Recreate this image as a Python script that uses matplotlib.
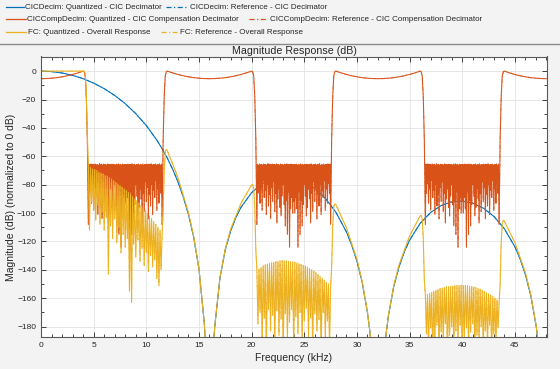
import matplotlib
matplotlib.use('Agg')
import matplotlib.pyplot as plt
from matplotlib.lines import Line2D
import numpy as np

plt.rcParams['font.family'] = ['Liberation Sans', 'DejaVu Sans']

# ---- data (kHz, dB) ----

# CIC decimator (blue)
cic_freq = [0, 1, 2, 3, 4, 5, 6, 7, 8, 9, 10, 11, 11.5, 12, 12.5, 13, 13.5, 14, 14.5, 15, 15.5, 15.7,
            16.3, 16.4, 16.5, 17, 17.5, 18, 18.5, 19, 20, 21, 22, 23, 24, 25, 26, 27, 28, 29, 29.5,
            30, 30.5, 31, 31.2, 31.3, 32.7, 32.8, 33, 33.5, 34, 34.5, 35, 36, 37, 38, 39, 40, 41,
            42, 43, 44, 45, 45.5, 46, 46.5, 47, 47.2]
cic_mag = [0, -0.33, -1.31, -2.97, -5.32, -8.43, -12.33, -17.13, -22.94, -29.93, -38.35, -48.63,
           -54.64, -61.37, -69.05, -77.89, -88.29, -100.92, -117.0, -139.4, -176.8, -204,
           -205.7, -191.1, -179.7, -145.3, -125.9, -112.8, -103.2, -95.85, -85.57, -79.28, -75.8,
           -74.56, -75.31, -77.98, -82.64, -89.58, -99.38, -113.2, -122.4,
           -133.8, -148.8, -170.0, -181.8, -188.8, -190.1, -183.3, -172.0, -151.7, -137.8, -127.3,
           -119.1, -107.3, -99.54, -94.66, -92.1, -91.57, -93.01,
           -96.49, -102.3, -110.99, -123.76, -132.4, -143.3, -157.8, -178.5, -190]

# CIC compensation decimator (orange): half period 0..8 kHz, the rest are its images
comp_pass_freq = [0, 0.5, 1, 1.5, 2, 2.5, 3, 3.5, 4.0, 4.1, 4.2, 4.3, 4.4]
comp_pass_mag = [-5.32, -5.24, -4.99, -4.59, -4.01, -3.27, -2.35, -1.26, 0.0, -0.4, -3.5, -18, -48]
# stopband 4.5 .. 8.0 kHz
comp_stop_mag = [-108, -65.5, -86, -66.2, -79, -65.4, -93, -66, -83, -65.7, -98, -66.3, -77, -65.5,
                 -89, -66.1, -84, -65.8, -101, -66.4, -80, -65.3, -95, -66, -87, -65.6, -104, -66.2,
                 -82, -65.5, -92, -66, -78, -65.8, -99, -66.3, -86, -65.4, -107, -66, -90, -65.7,
                 -83, -66.2, -96, -65.5, -102, -66, -88, -65.8, -80, -66.4, -94, -65.6, -109, -66.1,
                 -91, -65.4, -115, -66, -85, -65.7, -124, -66.2, -97, -65.5, -89, -66, -100, -65.8, -92]

# overall response (yellow)
fc_pass_freq = [0, 1, 2, 3, 3.5, 4.0, 4.1, 4.2, 4.3, 4.4]
fc_pass_mag = [0, 0, 0, 0.05, 0.05, 0, -0.1, -1.5, -15, -45]
# stopband 4.5 .. 11.5 kHz
fc_stop1_mag = [-67, -112, -68, -92, -69, -98, -69.5, -105, -70, -94, -71, -108, -71.8, -99, -72.5,
                -112, -73.4, -103, -74, -143, -75, -109, -76, -118, -77.3, -104, -78.4, -121, -79.5,
                -110, -80.6, -128, -81.8, -115, -83, -124, -84.2, -118, -85.5, -155, -87, -163,
                -88.4, -122, -90, -131, -91.4, -119, -93, -134, -94.7, -125, -96.4, -137, -98, -128,
                -100, -141, -102, -130, -104, -138, -106, -133, -108, -146, -110, -151, -112, -140, -115]
fc_mid1_freq = [11.6, 11.7, 11.8, 11.9, 12, 13, 14, 14.5, 15, 15.5, 15.7, 16.3, 16.4, 16.5, 17, 17.5,
                18, 19, 20, 20.1, 20.2, 20.3, 20.4]
fc_mid1_mag = [-99, -70, -57, -55.2, -56.1, -74.9, -99.6, -116.3, -139.1, -176.7, -204, -205.7, -191,
               -179.6, -145.0, -125.1, -111.5, -92.9, -80.3, -80.0, -82.5, -96.4, -125.8]
# stopband 20.5 .. 27.5 kHz
fc_stop2_mag = [-140, -178, -139.5, -170, -138.5, -192, -137, -174, -136.5, -200, -136, -168, -135.5,
                -183, -135, -172, -134.6, -195, -134.2, -169, -134, -186, -133.6, -175, -133.5, -205,
                -133.6, -171, -133.8, -189, -134, -177, -134.2, -168, -134.4, -198, -134.6, -173,
                -135, -185, -135.6, -170, -136.2, -192, -136.8, -176, -137.4, -167, -138.2, -188,
                -139, -174, -140, -197, -141, -171, -142, -183, -143.4, -175, -144.6, -201, -145.8,
                -170, -147.2, -187, -148.6, -176, -150, -194, -152]
fc_mid2_freq = [27.6, 27.7, 27.8, 27.9, 28, 29, 30, 30.5, 31, 31.2, 31.3, 32.7, 32.8, 33, 33.5, 34,
                35, 36, 36.1, 36.2, 36.3, 36.4]
fc_mid2_mag = [-138.2, -109.1, -95.6, -93.5, -94.1, -110.2, -132.5, -148.1, -169.7, -181.7, -188.7,
               -190, -183.2, -171.7, -151.0, -136.5, -116.1, -102.0, -101.6, -104, -117.7, -146.9]
# stopband 36.5 .. 43.5 kHz
fc_stop3_mag = [-158, -185, -157.4, -196, -156.6, -181, -155.8, -203, -155, -188, -154.4, -179, -153.8,
                -199, -153.2, -184, -152.8, -192, -152.4, -178, -152, -205, -151.8, -186, -151.6,
                -180, -151.4, -197, -151.2, -183, -151, -190, -151, -179, -150.8, -204, -151, -187,
                -151, -181, -151.2, -195, -151.5, -184, -151.8, -178, -152.2, -200, -152.6, -186,
                -153, -191, -153.6, -180, -154.4, -198, -155.2, -183, -156, -194, -156.8, -179,
                -157.6, -202, -158.6, -185, -159.8, -190, -161, -181, -163]
fc_tail_freq = [43.6, 43.7, 43.8, 43.9, 44, 45, 46, 46.5, 47, 47.2]
fc_tail_mag = [-150.2, -121.1, -107.5, -105.2, -105.7, -120.8, -142.0, -157.1, -178.2, -190]

legend_labels = ["CICDecim: Quantized - CIC Decimator",
                 "CICDecim: Reference - CIC Decimator",
                 "CICCompDecim: Quantized - CIC Compensation Decimator",
                 "CICCompDecim: Reference - CIC Compensation Decimator",
                 "FC: Quantized - Overall Response",
                 "FC: Reference - Overall Response"]

c_blue = '#0072bd'
c_orange = '#d95319'
c_yellow = '#edb120'

# ---- assemble the curves ----
half_f = np.concatenate([comp_pass_freq, np.linspace(4.5, 8.0, len(comp_stop_mag))])
half_m = np.concatenate([comp_pass_mag, comp_stop_mag])
comp_f = np.concatenate([half_f, 16 - half_f[::-1], 16 + half_f,
                         32 - half_f[::-1], 32 + half_f, 48 - half_f[::-1]])
comp_m = np.concatenate([half_m, half_m[::-1]] * 3)

fc_f = np.concatenate([fc_pass_freq, np.linspace(4.5, 11.5, len(fc_stop1_mag)), fc_mid1_freq,
                       np.linspace(20.5, 27.5, len(fc_stop2_mag)), fc_mid2_freq,
                       np.linspace(36.5, 43.5, len(fc_stop3_mag)), fc_tail_freq])
fc_m = np.concatenate([fc_pass_mag, fc_stop1_mag, fc_mid1_mag, fc_stop2_mag, fc_mid2_mag,
                       fc_stop3_mag, fc_tail_mag])

W, H = 560, 369
fig = plt.figure(figsize=(W / 100, H / 100), dpi=100, facecolor='#f3f3f3')
ax = fig.add_axes([41 / W, 1 - 337.3 / H, (547 - 41) / W, (337.3 - 56.5) / H])
ax.set_facecolor('white')

lw = 0.75
dd = (0, (4, 2, 1, 2))
ax.plot(cic_freq, cic_mag, color=c_blue, lw=lw)
ax.plot(cic_freq, cic_mag, color=c_blue, lw=lw, ls=dd, alpha=0.8)
ax.plot(comp_f, comp_m, color=c_orange, lw=lw)
ax.plot(comp_f, comp_m, color=c_orange, lw=lw, ls=dd, alpha=0.6)
ax.plot(fc_f, fc_m, color=c_yellow, lw=lw)
ax.plot(fc_f, fc_m, color=c_yellow, lw=lw, ls=dd, alpha=0.6)

ax.set_xlim(0, 48.05)
ax.set_ylim(-187.5, 10.3)
ax.set_xticks(np.arange(0, 46, 5))
ax.set_xticks(np.arange(0, 49, 1), minor=True)
ax.set_yticks(np.arange(-180, 1, 20))
ax.set_yticks(np.arange(-180, 11, 10), minor=True)
ax.tick_params(which='both', direction='in', top=True, right=True, labelsize=6,
               colors='#262626', width=0.6)
ax.tick_params(which='major', length=3.5)
ax.tick_params(which='minor', length=2)
ax.grid(which='major', color='#e3e3e3', lw=0.6)
ax.set_axisbelow(True)
for s in ax.spines.values():
    s.set_color('#5a5a5a')
    s.set_linewidth(0.8)

ax.set_title("Magnitude Response (dB)", fontsize=7.7, color='#262626', pad=2)
ax.set_xlabel("Frequency (kHz)", fontsize=7.5, color='#262626', labelpad=3)
ax.set_ylabel("Magnitude (dB) (normalized to 0 dB)", fontsize=7.5, color='#262626', labelpad=1)

# legend strip above the axes, each row laid out on its own
rows_y = [7.3, 19.4, 32.0]
handles_x = [(6, 24, 166, 187), (6, 26, 249, 266), (6, 26, 161, 177)]
texts_x = [(24.8, 190), (27, 269.5), (28, 180)]
colors = [c_blue, c_orange, c_yellow]
for r in range(3):
    y = 1 - rows_y[r] / H
    x0, x1, x2, x3 = handles_x[r]
    fig.add_artist(Line2D([x0 / W, x1 / W], [y, y], transform=fig.transFigure,
                          color=colors[r], lw=0.9))
    fig.add_artist(Line2D([x2 / W, x3 / W], [y, y], transform=fig.transFigure,
                          color=colors[r], lw=0.9, ls=dd))
    fig.text(texts_x[r][0] / W, y, legend_labels[2 * r], fontsize=5.8, va='center', ha='left',
             color='#262626')
    fig.text(texts_x[r][1] / W, y, legend_labels[2 * r + 1], fontsize=5.8, va='center', ha='left',
             color='#262626')
fig.add_artist(Line2D([0, 1], [1 - 43.6 / H, 1 - 43.6 / H], transform=fig.transFigure,
                      color='#8a8a8a', lw=1.0))

fig.savefig('out.png', dpi=100, facecolor=fig.get_facecolor())
